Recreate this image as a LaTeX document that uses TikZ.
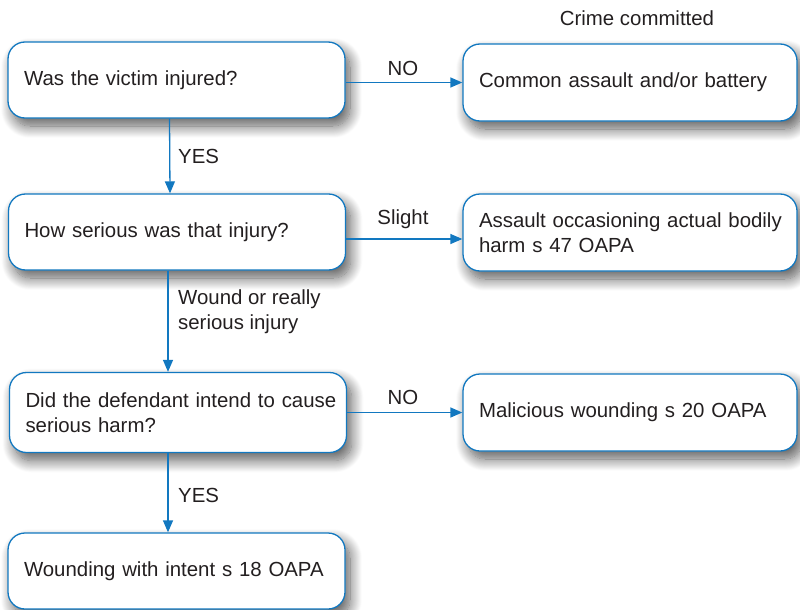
\documentclass[tikz,border=0pt]{standalone}
\usepackage{fontspec}
\setmainfont{Liberation Sans}
\usetikzlibrary{arrows.meta,shadows.blur}
\definecolor{flowblue}{RGB}{18,120,192}
\definecolor{inkgrey}{RGB}{35,31,32}
\tikzset{
  box/.style={draw=flowblue, line width=1.3pt, rounded corners=17pt, fill=white,
    minimum height=76pt, text width=#1, inner xsep=16pt, inner ysep=0pt, align=left,
    text=inkgrey, font=\fontsize{20.4}{24.5}\selectfont,
    blur shadow={shadow xshift=5pt, shadow yshift=-8pt, shadow blur radius=12pt,
      shadow blur steps=16, shadow opacity=65}},
  box/.default=305pt,
  flow/.style={draw=flowblue, line width=1.3pt, -{Triangle[length=12pt,width=10pt]}},
  lbl/.style={text=inkgrey, font=\fontsize{20.4}{25}\selectfont, inner sep=0pt, align=left}
}
\begin{document}
\begin{tikzpicture}[x=1pt,y=-1pt]
  \useasboundingbox (0,0) rectangle (800,610);

  % question column
  \node[box] (q1) at (176.5,80) {\mbox{Was the victim injured?}};
  \node[box] (q2) at (177,232) {\mbox{How serious was that injury?}};
  \node[box, minimum height=80pt] (q3) at (178,412.5) {\mbox{Did the defendant intend to cause}\\\mbox{serious harm?}};
  \node[box] (q4) at (176.5,571) {\mbox{Wounding with intent s 18 OAPA}};

  % outcome column
  \node[lbl, anchor=center] (head) at (637,18) {Crime committed};
  \node[box=302pt, minimum height=77pt] (r1) at (630,82.5) {\mbox{Common assault and/or battery}};
  \node[box=302pt, minimum height=77pt] (r2) at (630,232.5) {\mbox{Assault occasioning actual bodily}\\\mbox{harm s 47 OAPA}};
  \node[box=302pt, minimum height=77pt] (r3) at (630,412.5) {\mbox{Malicious wounding s 20 OAPA}};

  % vertical connectors
  \draw[flow] ([xshift=-7pt]q1.south) -- ([xshift=-7pt]q2.north);
  \draw[flow] ([xshift=-9pt]q2.south) -- ([xshift=-10pt]q3.north);
  \draw[flow] ([xshift=-10pt]q3.south) -- ([xshift=-8.5pt]q4.north);

  % horizontal connectors
  \draw[flow] (r1.west -| q1.east) -- (r1.west);
  \draw[flow] ([yshift=-6.5pt]r2.west -| q2.east) -- ([yshift=-6.5pt]r2.west);
  \draw[flow] (r3.west -| q3.east) -- (r3.west);

  % branch labels
  \node[lbl, anchor=center] (no1) at (403,68) {NO};
  \node[lbl, anchor=west] (yes1) at (178,156) {YES};
  \node[lbl, anchor=center] (slight) at (403,219) {Slight};
  \node[lbl, anchor=west] (wound) at (178,312) {Wound or really\\serious injury};
  \node[lbl, anchor=center] (no2) at (403,397) {NO};
  \node[lbl, anchor=west] (yes2) at (178,495) {YES};
\end{tikzpicture}
\end{document}
